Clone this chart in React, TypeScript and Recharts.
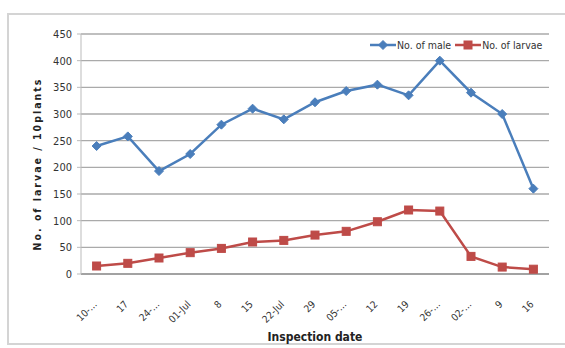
import { LineChart, Line, XAxis, YAxis, CartesianGrid, Legend } from 'recharts';

const inspectionDates = ['10-…', '17', '24-…', '01-Jul', '8', '15', '22-Jul', '29', '05-…', '12', '19', '26-…', '02-…', '9', '16'];
const maleCounts = [240, 258, 193, 225, 280, 310, 290, 322, 343, 355, 335, 400, 340, 300, 160];
const larvaeCounts = [15, 20, 30, 40, 48, 60, 63, 73, 80, 98, 120, 118, 33, 13, 9];
const yTicks = [0, 50, 100, 150, 200, 250, 300, 350, 400, 450];
const legendOrder = ['male', 'larvae'];

const BLUE = '#4a7ebb';
const RED = '#be4b48';
const narrow = '"Liberation Sans Narrow", "DejaVu Sans Condensed", "Liberation Sans", Arial, sans-serif';

const data = inspectionDates.map((date, i) => ({ date, male: maleCounts[i], larvae: larvaeCounts[i] }));

function Diamond({ cx, cy, color }: any) {
  if (cx == null || cy == null) return null;
  const r = 4.5;
  return <path d={`M${cx},${cy - r}L${cx + r},${cy}L${cx},${cy + r}L${cx - r},${cy}Z`} fill={color} stroke={color} />;
}

function Square({ cx, cy, color }: any) {
  if (cx == null || cy == null) return null;
  const r = 4;
  return <rect x={cx - r} y={cy - r} width={r * 2} height={r * 2} fill={color} stroke={color} />;
}

function DateTick({ x, y, payload }: any) {
  return (
    <g transform={`translate(${x + 1},${y + 23})`}>
      <text transform="rotate(-45)" textAnchor="end" fontSize={10} fill="#333" fontFamily={narrow}>
        {payload.value}
      </text>
    </g>
  );
}

function renderLegend(props: any) {
  const items = [...(props.payload || [])].sort(
    (a: any, b: any) => legendOrder.indexOf(a.dataKey) - legendOrder.indexOf(b.dataKey)
  );
  return (
    <div style={{ display: 'flex', alignItems: 'center', fontFamily: narrow, fontSize: 10.5, color: '#333' }}>
      {items.map((item: any) => (
        <div key={item.value} style={{ display: 'flex', alignItems: 'center', marginRight: 4 }}>
          <svg width={26} height={10}>
            <line x1={0} y1={5} x2={26} y2={5} stroke={item.color} strokeWidth={2.5} />
            {item.dataKey === 'male' ? <Diamond cx={13} cy={5} color={item.color} /> : <Square cx={13} cy={5} color={item.color} />}
          </svg>
          <span style={{ marginLeft: 1 }}>{item.value}</span>
        </div>
      ))}
    </div>
  );
}

export default function App() {
  return (
    <div style={{ position: 'fixed', left: 0, top: 0, width: 565, height: 348, background: '#fff', overflow: 'hidden' }}>
      <div style={{ position: 'absolute', left: 7, top: 13, width: 640, height: 328, border: '2px solid #d4d4d4' }} />
      <div style={{ position: 'absolute', left: 0, top: 0 }}>
        <LineChart width={565} height={348} data={data} margin={{ top: 34, right: 16, bottom: 0, left: 0 }}>
          <CartesianGrid vertical={false} stroke="#aaa" strokeWidth={1.3} />
          <XAxis
            dataKey="date"
            interval={0}
            height={74}
            padding={{ left: 15.6, right: 15.6 }}
            axisLine={{ stroke: '#999', strokeWidth: 1.5 }}
            tickLine={false}
            tick={<DateTick />}
            label={{
              content: (p: any) => {
                const vb = p.viewBox || {};
                return (
                  <text x={vb.x + vb.width / 2} y={vb.y + 67} textAnchor="middle" fontSize={12} fontWeight="bold" fill="#222" fontFamily={narrow}>
                    Inspection date
                  </text>
                );
              },
            }}
          />
          <YAxis
            width={81}
            domain={[0, 450]}
            ticks={yTicks}
            interval={0}
            axisLine={{ stroke: '#bbb' }}
            tickLine={{ stroke: '#bbb' }}
            tickSize={4}
            tickMargin={5}
            tick={{ fontSize: 11, fill: '#333', fontFamily: narrow }}
            label={{
              content: (p: any) => {
                const vb = p.viewBox || {};
                const cx = vb.x + 41;
                const cy = vb.y + vb.height / 2 + 10;
                return (
                  <text x={cx} y={cy} transform={`rotate(-90, ${cx}, ${cy})`} textAnchor="middle" fontSize={10.5} fontWeight="bold" letterSpacing={2} fill="#222" fontFamily={narrow}>
                    No. of larvae / 10plants
                  </text>
                );
              },
            }}
          />
          <Legend
            layout="vertical"
            align="center"
            verticalAlign="middle"
            content={renderLegend}
            wrapperStyle={{ position: 'absolute', left: 370, top: 39, width: 200 }}
          />
          <Line
            dataKey="male"
            name="No. of male"
            stroke={BLUE}
            strokeWidth={2.5}
            dot={(p: any) => <Diamond key={p.index} cx={p.cx} cy={p.cy} color={BLUE} />}
            isAnimationActive={false}
          />
          <Line
            dataKey="larvae"
            name="No. of larvae"
            stroke={RED}
            strokeWidth={2.5}
            dot={(p: any) => <Square key={p.index} cx={p.cx} cy={p.cy} color={RED} />}
            isAnimationActive={false}
          />
        </LineChart>
      </div>
    </div>
  );
}
